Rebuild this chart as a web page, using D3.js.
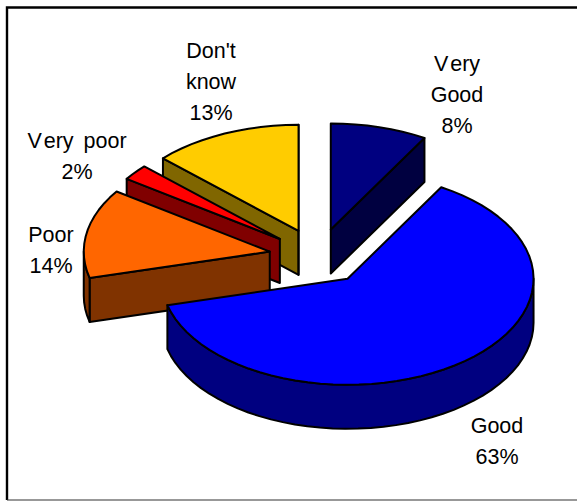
<!DOCTYPE html>
<html><head><meta charset="utf-8">
<script src="https://cdn.jsdelivr.net/npm/d3@7"></script>
<style>html,body{margin:0;padding:0;background:#fff}svg{display:block}</style>
</head><body><svg id="c" width="577" height="501"></svg>
<script>
const categories = ["Very Good","Good","Poor","Very poor","Don't know"];
const labelLines = [["Very","Good"],["Good"],["Poor"],["Very poor"],["Don't","know"]];
const values = [8.4,62.6,13.6,2.4,13];
const topColors = ["#000080","#0000FF","#FF6600","#FF0000","#FFCC00"];
const sideColors = ["#000040","#000080","#803300","#800000","#806600"];
const drawOrder = [0,4,3,2,1];

const cx=318, cy=256.5, rx=186, ry=106, depth=44, explode=49;
const labelPos=[[457,63],[497,425],[51,234],[77,140],[211,50]];
const lineH=31;

const svg=d3.select("#c");
const frame=d3.path();
frame.moveTo(577,7.5); frame.lineTo(7,7.5); frame.lineTo(7,500);
svg.append("path").attr("d",frame.toString()).attr("fill","none").attr("stroke","#000").attr("stroke-width",2.4);
svg.append("line").attr("x1",7).attr("x2",577).attr("y1",500).attr("y2",500).attr("stroke","#333").attr("stroke-width",1.2);

const pie=d3.pie().sort(null).value(d=>d).startAngle(0).endAngle(2*Math.PI);
const arcs=pie(values);
const xS=d3.scaleLinear().domain([-1,1]).range([cx-rx,cx+rx]);
const yS=d3.scaleLinear().domain([-1,1]).range([cy-ry,cy+ry]);
function project(a,r,mid,dz){
  const e=explode/rx;
  return [xS(r*Math.sin(a)+e*Math.sin(mid)), yS(-r*Math.cos(a)-e*Math.cos(mid))+dz];
}
function samples(a0,a1){
  const n=Math.max(1,Math.ceil((a1-a0)/(4*Math.PI/180)));
  return d3.range(n+1).map(i=>a0+(a1-a0)*i/n);
}
const line=d3.line();
const g=svg.append("g").attr("stroke","#000").attr("stroke-width",2).attr("stroke-linejoin","round");

function drawSide(pts,fill){
  g.append("path").attr("d",line(pts)+"Z").attr("fill",fill);
}
drawOrder.forEach(i=>{
  const d=arcs[i], a0=d.startAngle, a1=d.endAngle, mid=(a0+a1)/2;
  const side=sideColors[i];
  if(Math.sin(a0)<0){
    drawSide([project(0,0,mid,0),project(a0,1,mid,0),project(a0,1,mid,depth),project(0,0,mid,depth)],side);
  }
  if(Math.sin(a1)>0){
    drawSide([project(0,0,mid,0),project(a1,1,mid,0),project(a1,1,mid,depth),project(0,0,mid,depth)],side);
  }
  const r0=Math.max(a0,Math.PI/2), r1=Math.min(a1,1.5*Math.PI);
  if(r1>r0){
    const as=samples(r0,r1);
    const pts=as.map(a=>project(a,1,mid,0)).concat(as.slice().reverse().map(a=>project(a,1,mid,depth)));
    drawSide(pts,side);
  }
  const top=[project(0,0,mid,0)].concat(samples(a0,a1).map(a=>project(a,1,mid,0)));
  g.append("path").attr("d",line(top)+"Z").attr("fill",topColors[i]);
});

const t=svg.append("g").attr("font-family","'Liberation Sans',Arial,sans-serif").attr("font-size",21.5)
  .attr("fill","#000").attr("text-anchor","middle").style("font-kerning","none");
categories.forEach((c,i)=>{
  const lines=labelLines[i].concat([Math.round(values[i])+"%"]);
  lines.forEach((s,j)=>{
    const el=t.append("text").attr("x",labelPos[i][0]).attr("y",labelPos[i][1]+j*lineH)
      .attr("dy","0.35em");
    if(s.startsWith("Very")){
      el.append("tspan").text("V");
      el.append("tspan").attr("dx",2).attr("word-spacing",s==="Very poor"?4:0).text(s.slice(1));
    } else el.text(s);
  });
});
</script></body></html>
